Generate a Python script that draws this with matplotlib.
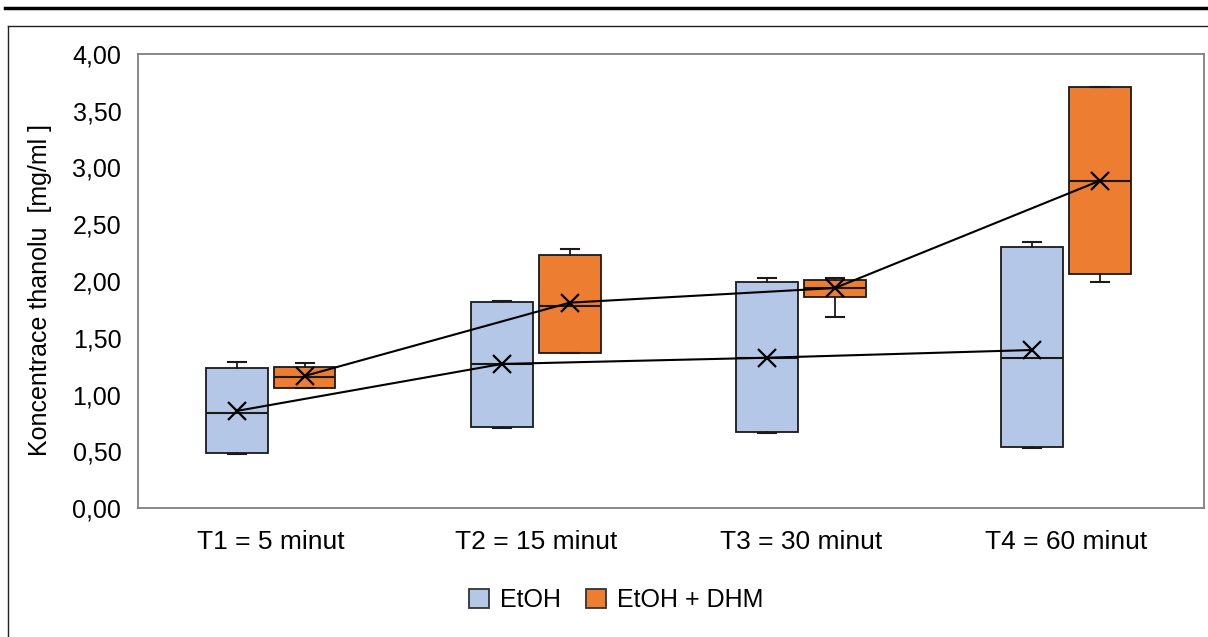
import matplotlib
matplotlib.use("Agg")
import matplotlib.pyplot as plt
from matplotlib.lines import Line2D
from matplotlib.patches import Patch
from matplotlib.ticker import FuncFormatter

plt.rcParams['font.family'] = ['Liberation Sans', 'DejaVu Sans']

categories = ['T1 = 5 minut', 'T2 = 15 minut', 'T3 = 30 minut', 'T4 = 60 minut']
series = ['EtOH', 'EtOH + DHM']

# box statistics (mg/ml)
etoh_wlo = [0.476, 0.707, 0.663, 0.526]
etoh_q1 = [0.485, 0.716, 0.667, 0.535]
etoh_med = [0.837, 1.266, 1.319, 1.319]
etoh_q3 = [1.233, 1.818, 1.989, 2.302]
etoh_whi = [1.286, 1.826, 2.029, 2.346]
etoh_mean = [0.855, 1.269, 1.324, 1.392]

dhm_wlo = [1.057, 1.366, 1.685, 1.994]
dhm_q1 = [1.060, 1.368, 1.862, 2.062]
dhm_med = [1.157, 1.782, 1.936, 2.884]
dhm_q3 = [1.245, 2.229, 2.009, 3.712]
dhm_whi = [1.275, 2.282, 2.024, 3.712]
dhm_mean = [1.163, 1.809, 1.938, 2.884]

colors = ['#B4C7E7', '#ED7D31']


def stats(wlo, q1, med, q3, whi, mean):
    return [dict(whislo=a, q1=b, med=c, q3=d, whishi=e, mean=f, fliers=[])
            for a, b, c, d, e, f in zip(wlo, q1, med, q3, whi, mean)]


fig = plt.figure(figsize=(12.08, 6.37), dpi=100)
ax = fig.add_axes([138 / 1208, 1 - 508 / 637, (1204 - 138) / 1208, (508 - 54) / 637])

groups = [
    (stats(etoh_wlo, etoh_q1, etoh_med, etoh_q3, etoh_whi, etoh_mean), etoh_mean, -0.128, colors[0]),
    (stats(dhm_wlo, dhm_q1, dhm_med, dhm_q3, dhm_whi, dhm_mean), dhm_mean, 0.128, colors[1]),
]
for st, means, off, col in groups:
    pos = [i + off for i in range(len(categories))]
    ax.bxp(st, positions=pos, widths=0.233, capwidths=0.068, patch_artist=True,
           showfliers=False, showmeans=False,
           boxprops=dict(facecolor=col, edgecolor='#1a1a1a', linewidth=1.3),
           medianprops=dict(color='#1a1a1a', linewidth=1.5),
           whiskerprops=dict(color='#1a1a1a', linewidth=1.3),
           capprops=dict(color='#1a1a1a', linewidth=1.5))
    ax.plot(pos, means, color='black', linewidth=1.5, marker='x',
            markersize=13, markeredgewidth=1.6, zorder=5)

ax.set_xlim(-0.5, len(categories) - 0.48)
ax.set_ylim(0, 4)
ax.set_yticks([i * 0.5 for i in range(9)])
ax.yaxis.set_major_formatter(FuncFormatter(lambda v, p: f"{v:.2f}".replace('.', ',')))
ax.set_xticks(range(len(categories)))
ax.set_xticklabels(categories)
ax.tick_params(axis='y', length=0, pad=12, labelsize=18)
ax.tick_params(axis='x', length=0, pad=16, labelsize=19)
for s in ax.spines.values():
    s.set_color('#7f7f7f')
    s.set_linewidth(1.3)

fig.text(40 / 1208, 1 - 290 / 637, 'Koncentrace thanolu  [mg/ml ]', rotation=90,
         ha='center', va='center', fontsize=18)

handles = [Patch(facecolor=c, edgecolor='#333333', linewidth=1.3) for c in colors]
fig.legend(handles, series, loc='center', bbox_to_anchor=(616 / 1208, 1 - 600 / 637),
           ncol=2, frameon=False, fontsize=18, handlelength=0.8, handleheight=0.8,
           handletextpad=0.45, columnspacing=1.0)

# page frame lines
fig.add_artist(Line2D([5 / 1208, 1], [1 - 8 / 637] * 2, color='black', linewidth=2.5))
fig.add_artist(Line2D([8 / 1208, 1], [1 - 26 / 637] * 2, color='#222222', linewidth=1.0))
fig.add_artist(Line2D([8 / 1208, 8 / 1208], [0, 1 - 26 / 637], color='#222222', linewidth=1.0))

fig.savefig('out.png', dpi=100)
